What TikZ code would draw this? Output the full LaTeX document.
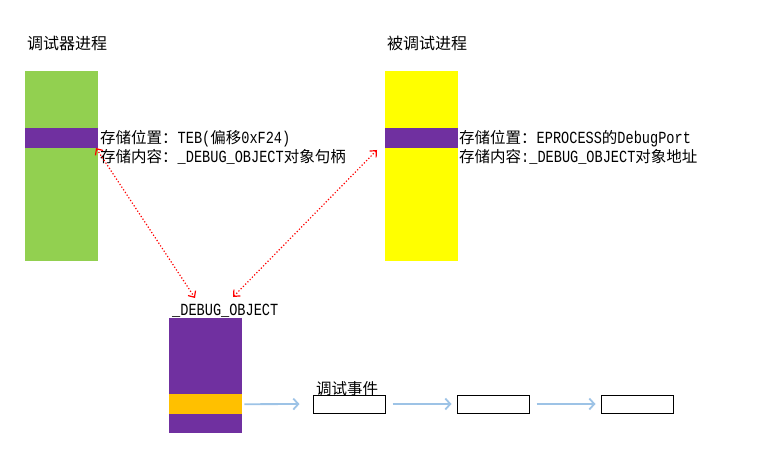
\documentclass[tikz,border=0pt]{standalone}
\usepackage{fontspec}
\setmainfont{Liberation Mono}[FakeStretch=0.8]
\newfontfamily\cjk{Noto Sans CJK SC}
\usetikzlibrary{arrows.meta}
\definecolor{cgreen}{HTML}{92D050}
\definecolor{cyellow}{HTML}{FFFF00}
\definecolor{cpurple}{HTML}{7030A0}
\definecolor{corange}{HTML}{FFC000}
\definecolor{cblue}{HTML}{9DC3E6}
\newcommand{\zh}[1]{{\cjk\fontsize{15.5pt}{16pt}\selectfont #1}}
\newcommand{\zhT}[1]{{\cjk\fontsize{16pt}{17pt}\selectfont #1}}
\tikzset{
  blk/.style={rectangle, draw=none, inner sep=0pt, anchor=north west},
  txt/.style={anchor=base west, inner sep=0pt, font=\fontsize{17pt}{18pt}\selectfont},
  evbox/.style={rectangle, draw=black, line width=1pt, fill=white, minimum width=72pt, minimum height=18pt, inner sep=0pt},
  redarr/.style={red, dotted, line width=1.2pt, {Straight Barb[length=5pt,width=9pt]}-{Straight Barb[length=5pt,width=9pt]}},
  bluearr/.style={cblue, line width=1.8pt, -{Straight Barb[length=5pt,width=11pt]}}
}
\begin{document}
\begin{tikzpicture}[x=1pt,y=-1pt]
\useasboundingbox (0,0) rectangle (760,462);
% titles
\node[txt] (t1) at (27,50) {\zhT{调试器进程}};
\node[txt] (t2) at (387,50) {\zhT{被调试进程}};
% debugger process block
\node[blk, fill=cgreen, minimum width=73pt, minimum height=190pt] (ga) at (25,71) {};
\node[blk, fill=cpurple, minimum width=73pt, minimum height=20pt] (pa) at (25,128) {};
% debuggee process block
\node[blk, fill=cyellow, minimum width=73pt, minimum height=190pt] (ya) at (385,71) {};
\node[blk, fill=cpurple, minimum width=73pt, minimum height=20pt] (pb) at (385,128) {};
% texts
\node[txt] (l1) at (100,144) {\zh{存储位置：}TEB(\zh{偏移}0xF24)};
\node[txt] (l2) at (100,163) {\zh{存储内容：}\_DEBUG\_OBJECT\zh{对象句柄}};
\node[txt] (r1) at (459,144) {\zh{存储位置：}EPROCESS\zh{的}DebugPort};
\node[txt] (r2) at (459,163) {\zh{存储内容}:\_DEBUG\_OBJECT\zh{对象地址}};
% debug object
\node[txt] (dl) at (172,315) {\_DEBUG\_OBJECT};
\node[blk, fill=cpurple, minimum width=73pt, minimum height=115pt] (db) at (169,318) {};
\node[blk, fill=corange, minimum width=73pt, minimum height=20pt] (ob) at (169,394) {};
% events
\node[txt] (el) at (316,394) {\zh{调试事件}};
\node[evbox] (e1) at (349,404) {};
\node[evbox] (e2) at (493,404) {};
\node[evbox] (e3) at (637,404) {};
\draw[bluearr, shorten >=13pt, shorten <=2pt] (ob.east) -- (e1.west);
\draw[bluearr, shorten >=5pt, shorten <=7pt] (e1.east) -- (e2.west);
\draw[bluearr, shorten >=5pt, shorten <=7pt] (e2.east) -- (e3.west);
% red arrows
\coordinate (c1) at (96,148);
\coordinate (c2) at (195,298);
\coordinate (c3) at (233,297);
\coordinate (c4) at (377,150);
\draw[redarr] (c1) -- (c2);
\draw[redarr] (c3) -- (c4);
\end{tikzpicture}
\end{document}
